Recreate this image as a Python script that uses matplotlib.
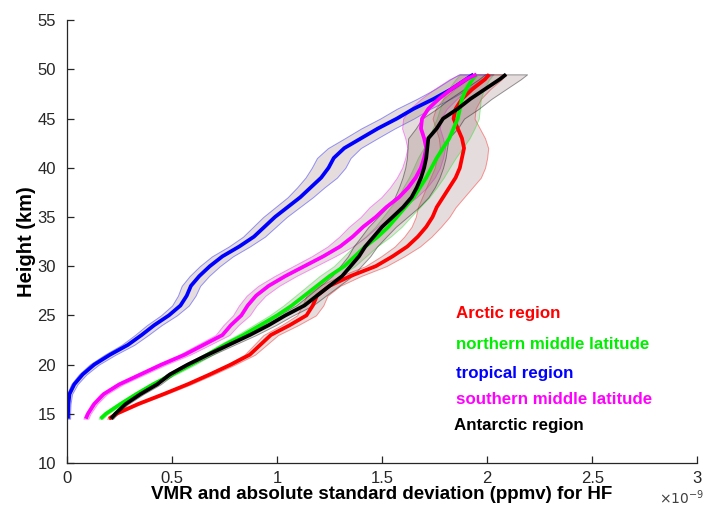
"""HF volume mixing ratio profiles by latitude band, with +/- 1 sigma shading."""

import matplotlib

matplotlib.use("Agg")
import matplotlib.pyplot as plt
import numpy as np

plt.rcParams["font.family"] = ["Liberation Sans", "DejaVu Sans"]

# altitude grid (km), shared by all profiles
height = [14.5, 15, 16, 17, 18, 19, 20, 21, 22, 23, 24, 25, 26, 27, 28, 29, 30,
          31, 32, 33, 34, 35, 36, 37, 38, 39, 40, 41, 42, 43, 44, 45, 46, 47,
          48, 49, 49.5]

# mean VMR, units of 1e-9 ppmv
arctic = [0.20, 0.235, 0.34, 0.46, 0.575, 0.68, 0.78, 0.87, 0.92, 0.97, 1.06,
          1.14, 1.17, 1.19, 1.25, 1.35, 1.47, 1.55, 1.62, 1.67, 1.71, 1.74,
          1.76, 1.79, 1.82, 1.85, 1.87, 1.88, 1.89, 1.88, 1.86, 1.84, 1.85,
          1.88, 1.93, 1.99, 2.01]
north_mid = [0.16, 0.185, 0.255, 0.33, 0.41, 0.50, 0.59, 0.67, 0.75, 0.84,
             0.92, 1.00, 1.07, 1.13, 1.19, 1.25, 1.32, 1.37, 1.42, 1.48, 1.53,
             1.57, 1.61, 1.65, 1.68, 1.71, 1.735, 1.76, 1.79, 1.82, 1.84, 1.86,
             1.87, 1.88, 1.90, 1.93, 1.95]
tropical = [0.005, 0.005, 0.007, 0.012, 0.035, 0.075, 0.13, 0.205, 0.29, 0.355,
            0.415, 0.485, 0.54, 0.57, 0.59, 0.63, 0.68, 0.74, 0.82, 0.89, 0.94,
            0.99, 1.05, 1.11, 1.16, 1.21, 1.245, 1.27, 1.32, 1.40, 1.48, 1.57,
            1.65, 1.745, 1.83, 1.90, 1.935]
south_mid = [0.09, 0.10, 0.13, 0.175, 0.25, 0.35, 0.45, 0.56, 0.65, 0.74, 0.78,
             0.83, 0.86, 0.90, 0.96, 1.04, 1.13, 1.22, 1.30, 1.36, 1.41, 1.47,
             1.52, 1.58, 1.625, 1.66, 1.685, 1.70, 1.71, 1.70, 1.685, 1.69,
             1.72, 1.77, 1.83, 1.90, 1.95]
antarctic = [0.21, 0.23, 0.28, 0.35, 0.43, 0.49, 0.575, 0.67, 0.77, 0.87, 0.96,
             1.04, 1.13, 1.19, 1.25, 1.31, 1.35, 1.39, 1.42, 1.46, 1.50, 1.55,
             1.60, 1.64, 1.665, 1.685, 1.70, 1.71, 1.715, 1.72, 1.76, 1.79,
             1.86, 1.92, 1.99, 2.06, 2.09]

# absolute standard deviation, same units
arctic_sd = [0.01, 0.01, 0.012, 0.014, 0.016, 0.018, 0.02, 0.025, 0.03, 0.035,
             0.04, 0.045, 0.05, 0.05, 0.05, 0.05, 0.05, 0.055, 0.06, 0.065,
             0.07, 0.08, 0.09, 0.10, 0.11, 0.12, 0.12, 0.12, 0.115, 0.11,
             0.105, 0.10, 0.095, 0.09, 0.085, 0.08, 0.08]
north_mid_sd = [0.01, 0.01, 0.012, 0.014, 0.016, 0.018, 0.02, 0.023, 0.026,
                0.03, 0.033, 0.036, 0.04, 0.042, 0.045, 0.048, 0.05, 0.053,
                0.056, 0.06, 0.063, 0.066, 0.07, 0.074, 0.08, 0.083, 0.086,
                0.09, 0.093, 0.096, 0.10, 0.10, 0.095, 0.09, 0.085, 0.08, 0.08]
tropical_sd = [0.01, 0.01, 0.01, 0.012, 0.015, 0.018, 0.022, 0.026, 0.03,
               0.032, 0.035, 0.038, 0.04, 0.042, 0.044, 0.046, 0.048, 0.05,
               0.05, 0.052, 0.054, 0.056, 0.058, 0.06, 0.065, 0.075, 0.08,
               0.08, 0.078, 0.078, 0.08, 0.08, 0.08, 0.08, 0.078, 0.075, 0.07]
south_mid_sd = [0.012, 0.012, 0.014, 0.016, 0.018, 0.02, 0.022, 0.026, 0.03,
                0.033, 0.036, 0.04, 0.042, 0.045, 0.05, 0.052, 0.054, 0.056,
                0.06, 0.064, 0.068, 0.072, 0.08, 0.084, 0.088, 0.09, 0.09,
                0.09, 0.09, 0.09, 0.09, 0.09, 0.088, 0.085, 0.082, 0.08, 0.08]
antarctic_sd = [0.01, 0.01, 0.012, 0.014, 0.016, 0.018, 0.02, 0.023, 0.026,
                0.03, 0.033, 0.036, 0.04, 0.042, 0.045, 0.048, 0.05, 0.053,
                0.056, 0.06, 0.065, 0.07, 0.075, 0.08, 0.085, 0.088, 0.09,
                0.092, 0.094, 0.096, 0.10, 0.10, 0.10, 0.10, 0.10, 0.10, 0.10]

names = ["Arctic region", "northern middle latitude", "tropical region",
         "southern middle latitude", "Antarctic region"]
colors = ["#ff0000", "#00ee00", "#0000ff", "#ff00ff", "#000000"]
means = [arctic, north_mid, tropical, south_mid, antarctic]
sds = [arctic_sd, north_mid_sd, tropical_sd, south_mid_sd, antarctic_sd]
label_x = [1.85, 1.85, 1.85, 1.85, 1.84]
label_y = [25.15, 22.0, 19.05, 16.45, 13.8]

fig = plt.figure(figsize=(7.05, 5.19), dpi=100)
ax = fig.add_axes([0.095, 0.108, 0.894, 0.853])

h = np.asarray(height)
for m, s, c in zip(means, sds, colors):
    m = np.asarray(m)
    s = np.asarray(s)
    ax.fill_betweenx(h, m - s, m + s, facecolor=(0.55, 0.40, 0.40, 0.22),
                     edgecolor=matplotlib.colors.to_rgba(c, 0.4), lw=0.7)
for m, c in zip(means, colors):
    ax.plot(m, h, color=c, lw=2.7, solid_capstyle="butt")

for name, c, x, y in zip(names, colors, label_x, label_y):
    ax.text(x, y, name, color=c, fontsize=12.2, fontweight="bold",
            va="center", ha="left")

ax.set_xlim(0, 3)
ax.set_ylim(10, 55)
ax.set_xticks([0, 0.5, 1, 1.5, 2, 2.5, 3])
ax.set_xticklabels(["0", "0.5", "1", "1.5", "2", "2.5", "3"])
ax.set_yticks(range(10, 56, 5))
ax.spines["top"].set_visible(False)
ax.spines["right"].set_visible(False)
for sp in ("left", "bottom"):
    ax.spines[sp].set_color("#262626")
    ax.spines[sp].set_linewidth(0.9)
ax.tick_params(direction="in", length=5, width=0.9, colors="#262626",
               labelsize=12)
ax.tick_params(axis="y", pad=8)
ax.tick_params(axis="x", pad=6)

ax.set_xlabel("VMR and absolute standard deviation (ppmv) for HF",
              fontsize=13.5, fontweight="bold", labelpad=0)
ax.set_ylabel("Height (km)", fontsize=14.5, fontweight="bold", labelpad=1)
fig.text(0.999, 0.028, r"$\times10^{-9}$", ha="right", va="baseline",
         fontsize=10, color="#404040")

fig.savefig("out.png", dpi=100)
